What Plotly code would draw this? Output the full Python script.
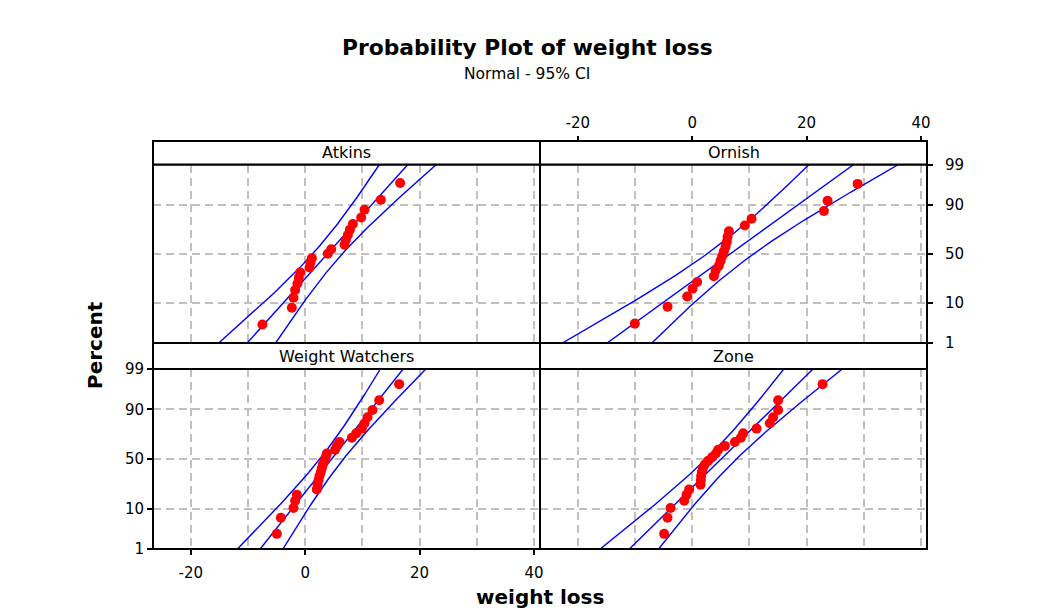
import plotly.graph_objects as go
from statistics import NormalDist, mean, stdev

# ---------------- data ----------------
panel_names = ["Atkins", "Ornish", "Weight Watchers", "Zone"]
atkins = [-7.47, -2.33, -2.04, -1.75, -1.34, -1.11, -0.87, 0.76, 0.93, 1.17, 3.96,
          4.55, 6.88, 7.11, 7.46, 7.81, 8.34, 9.79, 10.38, 13.23, 16.6]
ornish = [-10.02, -4.30, -0.87, 0.06, 0.87, 3.79, 4.09, 4.67, 4.96, 5.24, 5.54,
          5.84, 6.07, 6.19, 6.42, 9.21, 10.38, 23.02, 23.67, 28.92]
weight_watchers = [-4.95, -4.25, -2.04, -1.75, -1.46, 2.04, 2.16, 2.33, 2.51, 2.74,
                   2.91, 3.09, 3.38, 3.61, 3.79, 5.24, 5.54, 6.0, 8.16, 8.92, 9.91,
                   10.38, 10.90, 11.77, 12.94, 16.43]
zone = [-4.90, -4.31, -3.78, -1.39, -0.98, -0.52, 1.46, 1.52, 1.57, 1.70, 1.87, 2.22,
        2.80, 3.50, 4.14, 4.55, 5.72, 7.47, 8.51, 8.92, 11.26, 13.58, 14.16, 15.03,
        15.03, 22.80]
pct_ticks = [1, 10, 50, 90, 99]
x_ticks = [-20, 0, 20, 40]
title_text = "Probability Plot of weight loss"
subtitle_text = "Normal - 95% CI"
x_title = "weight loss"
y_title = "Percent"

series = [atkins, ornish, weight_watchers, zone]

# ---------------- layout geometry (pixels) ----------------
W, H = 1054, 616
def px(x):
    return x / W
def py(y):
    return 1 - y / H

XL, XM, XR = 153, 540, 927
T_STRIP, T_PLOT, M_LINE, B_PLOT_TOP, B_BOT = 141, 164.5, 343, 369, 549

x_dom = [[px(XL), px(XM)], [px(XM), px(XR)], [px(XL), px(XM)], [px(XM), px(XR)]]
y_dom = [[py(M_LINE), py(T_PLOT)], [py(M_LINE), py(T_PLOT)],
         [py(B_BOT), py(B_PLOT_TOP)], [py(B_BOT), py(B_PLOT_TOP)]]
strip_y = [[py(T_PLOT), py(T_STRIP)], [py(T_PLOT), py(T_STRIP)],
           [py(B_PLOT_TOP), py(M_LINE)], [py(B_PLOT_TOP), py(M_LINE)]]

nd = NormalDist()
zlo, zhi = nd.inv_cdf(0.01), nd.inv_cdf(0.99)
x_range = [-26.6, 41.05]
FONT = "DejaVu Sans"

fig = go.Figure()

for k, vals in enumerate(series):
    xa = "x" if k == 0 else f"x{k+1}"
    ya = "y" if k == 0 else f"y{k+1}"
    n = len(vals)
    s = sorted(vals)
    zpos = [nd.inv_cdf((i + 1 - 0.3) / (n + 0.4)) for i in range(n)]
    mu, sd = mean(vals), stdev(vals)
    zz = [zlo + (zhi - zlo) * j / 120 for j in range(121)]
    fit = [mu + sd * z for z in zz]
    half = [1.96 * sd * ((1 / n) + z * z / (2 * n)) ** 0.5 for z in zz]
    lo = [f - h for f, h in zip(fit, half)]
    hi = [f + h for f, h in zip(fit, half)]
    for line_x in (lo, fit, hi):
        fig.add_trace(go.Scatter(x=line_x, y=zz, mode="lines", xaxis=xa, yaxis=ya,
                                 line=dict(color="#0000FF", width=1.4),
                                 hoverinfo="skip", showlegend=False))
    fig.add_trace(go.Scatter(x=s, y=zpos, mode="markers", xaxis=xa, yaxis=ya,
                             marker=dict(color="#FF0000", size=10),
                             showlegend=False))

ytickvals = [nd.inv_cdf(p / 100) for p in pct_ticks]
ytext = [str(p) for p in pct_ticks]

grid = dict(gridcolor="#c0c0c0", gridwidth=1.5, griddash="8px,5px")
tickfont = dict(family=FONT, size=15, color="black")

def xaxis_cfg(k):
    d = dict(domain=x_dom[k], range=x_range, showline=False, zeroline=False,
             tickvals=x_ticks, ticktext=[str(t) for t in x_ticks],
             showgrid=True, **grid, automargin=False,
             minor=dict(dtick=10, tick0=0, showgrid=True, ticks="", **grid),
             tickfont=tickfont, fixedrange=True)
    if k == 2:
        d.update(anchor="y3", side="bottom", ticks="outside", ticklen=5,
                 tickwidth=1.5, tickcolor="black", showticklabels=True,
                 ticklabelstandoff=5)
    elif k == 1:
        d.update(anchor="free", position=py(T_STRIP), side="top", ticks="outside",
                 ticklen=5, tickwidth=1.5, tickcolor="black", showticklabels=True,
                 ticklabelstandoff=2)
    else:
        d.update(anchor="y" if k == 0 else f"y{k+1}", ticks="", showticklabels=False)
    return d

def yaxis_cfg(k):
    d = dict(domain=y_dom[k], range=[zlo, zhi], showline=False, zeroline=False,
             tickvals=ytickvals, ticktext=ytext, showgrid=True, **grid,
             automargin=False, tickfont=tickfont, fixedrange=True)
    if k == 2:
        d.update(anchor="x3", side="left", ticks="outside", ticklen=5,
                 tickwidth=1.5, tickcolor="black", showticklabels=True)
    elif k == 1:
        d.update(anchor="x2", side="right", ticks="outside", ticklen=5,
                 tickwidth=1.5, tickcolor="black", showticklabels=True,
                 ticklabelstandoff=9)
    else:
        d.update(anchor="x" if k == 0 else f"x{k+1}", ticks="", showticklabels=False)
    return d

layout = dict(width=W, height=H, autosize=False,
              margin=dict(l=0, r=0, t=0, b=0, pad=0, autoexpand=False),
              paper_bgcolor="white", plot_bgcolor="white", showlegend=False)
for k in range(4):
    layout["xaxis" if k == 0 else f"xaxis{k+1}"] = xaxis_cfg(k)
    layout["yaxis" if k == 0 else f"yaxis{k+1}"] = yaxis_cfg(k)
fig.update_layout(**layout)

shapes = []
annotations = []
for k in range(4):
    # panel frame
    shapes.append(dict(type="rect", xref="paper", yref="paper",
                       x0=x_dom[k][0], x1=x_dom[k][1], y0=y_dom[k][0], y1=y_dom[k][1],
                       line=dict(color="black", width=2), fillcolor="rgba(0,0,0,0)",
                       layer="above"))
    # strip
    shapes.append(dict(type="rect", xref="paper", yref="paper",
                       x0=x_dom[k][0], x1=x_dom[k][1], y0=strip_y[k][0], y1=strip_y[k][1],
                       line=dict(color="black", width=2), fillcolor="white",
                       layer="above"))
    annotations.append(dict(text=panel_names[k], xref="paper", yref="paper",
                            x=(x_dom[k][0] + x_dom[k][1]) / 2,
                            y=(strip_y[k][0] + strip_y[k][1]) / 2,
                            xanchor="center", yanchor="middle", showarrow=False,
                            font=dict(family=FONT, size=16, color="black")))

annotations += [
    dict(text=f"<b>{title_text}</b>", xref="paper", yref="paper", x=px(527), y=py(47),
         xanchor="center", yanchor="middle", showarrow=False,
         font=dict(family=FONT, size=21.8, color="black")),
    dict(text=subtitle_text, xref="paper", yref="paper", x=px(527), y=py(74),
         xanchor="center", yanchor="middle", showarrow=False,
         font=dict(family=FONT, size=15.5, color="black")),
    dict(text=f"<b>{x_title}</b>", xref="paper", yref="paper", x=px(540), y=py(597),
         xanchor="center", yanchor="middle", showarrow=False,
         font=dict(family=FONT, size=20, color="black")),
    dict(text=f"<b>{y_title}</b>", xref="paper", yref="paper", x=px(95), y=py(345),
         xanchor="center", yanchor="middle", showarrow=False, textangle=-90,
         font=dict(family=FONT, size=20, color="black")),
]
fig.update_layout(shapes=shapes, annotations=annotations)

fig.write_html("out.html")
